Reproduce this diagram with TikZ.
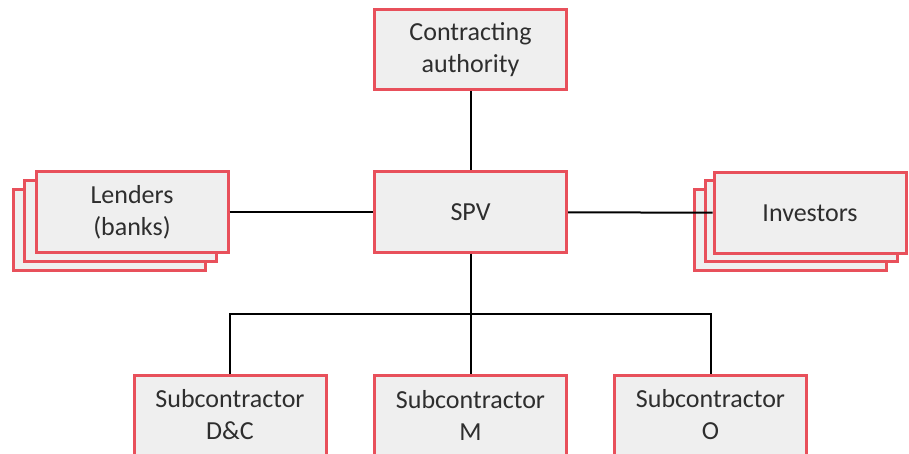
\documentclass[tikz,border=0pt]{standalone}
\usepackage{fontspec}
\setmainfont{Carlito}
\definecolor{boxred}{HTML}{E8505B}
\definecolor{boxfill}{HTML}{EFEFEF}
\definecolor{txt}{HTML}{2E2E2E}
\begin{document}
\begin{tikzpicture}[x=1pt,y=-1pt,
  box/.style={draw=boxred,fill=boxfill,line width=3pt,minimum width=192pt,minimum height=80pt,
    align=center,inner sep=0pt,font=\fontsize{26}{32}\selectfont,text=txt},
  conn/.style={draw=black,line width=2pt}]
\useasboundingbox (0,0) rectangle (909,454);
\clip (0,0) rectangle (909,454);
% top
\node[box] (ca) at (470.5,50) {Contracting\\authority};
\node[box] (spv) at (470.5,212) {SPV};
% lenders stack
\node[box] (l3) at (109,230) {};
\node[box] (l2) at (120,221) {};
\node[box] (len) at (132,212) {Lenders\\(banks)};
% investors stack
\node[box] (i3) at (790.5,230) {};
\node[box] (i2) at (801.5,221) {};
\node[box] (inv) at (810,213) {Investors};
% bottom
\node[box] (dc) at (230,415) {Subcontractor\\D\&C};
\node[box] (m) at (470.5,415) {Subcontractor\\M};
\node[box] (o) at (710.5,415) {Subcontractor\\O};
\coordinate (bus) at (470.5,314);
\draw[conn] (ca) -- (spv);
\draw[conn] (len) -- (spv);
\draw[conn] (spv) -- (inv);
\draw[conn] (spv) -- (bus);
\draw[conn] (bus) -- (m);
\draw[conn] (dc.north) |- (bus);
\draw[conn] (o.north) |- (bus);
\end{tikzpicture}
\end{document}
